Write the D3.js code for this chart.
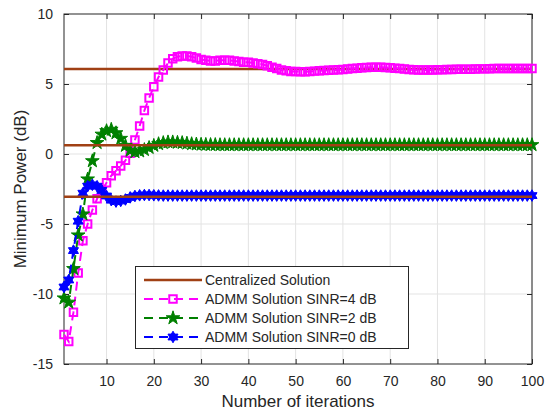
<!doctype html>
<html>
<head>
<meta charset="utf-8">
<script src="https://cdnjs.cloudflare.com/ajax/libs/d3/7.8.5/d3.min.js"></script>
<style>
body { margin: 0; background: #fff; }
text { font-family: "Liberation Sans", Arial, sans-serif; fill: #262626; }
.grid line { stroke: #e3e3e3; stroke-width: 1px; }
.axis path, .axis line { stroke: #262626; }
</style>
</head>
<body>
<svg id="chart" width="545" height="410"></svg>
<script>
// iteration index 1..100
var iterations = d3.range(1, 101);

// centralized optimum for SINR = 4, 2, 0 dB
var centralized = [6.07, 0.62, -3.05];

var sinr4 = [
  -12.9, -13.4, -11.3, -8.5, -6.2, -5.0, -4.0, -3.2, -2.6, -2.05,
  -1.55, -1.2, -0.85, -0.45, 0.05, 1.0, 2.0, 3.1, 4.0, 4.8,
  5.5, 6.0, 6.5, 6.8, 6.95, 7.0, 7.0, 6.95, 6.85, 6.75,
  6.7, 6.65, 6.65, 6.7, 6.7, 6.7, 6.65, 6.6, 6.55, 6.55,
  6.5, 6.45, 6.4, 6.3, 6.2, 6.1, 6.0, 5.95, 5.9, 5.9,
  5.88, 5.88, 5.9, 5.92, 5.94, 5.96, 5.98, 6.0, 6.02, 6.04,
  6.07, 6.1, 6.13, 6.16, 6.18, 6.2, 6.2, 6.2, 6.18, 6.16,
  6.13, 6.1, 6.07, 6.04, 6.02, 6.0, 6.0, 6.0, 6.0, 6.01,
  6.02, 6.03, 6.04, 6.05, 6.05, 6.05, 6.06, 6.07, 6.08, 6.08,
  6.09, 6.1, 6.1, 6.1, 6.1, 6.1, 6.1, 6.1, 6.1, 6.1
];

var sinr2 = [
  -10.3, -10.6, -8.2, -5.8, -4.3, -1.8, -0.5, 0.8, 1.4, 1.65,
  1.75, 1.5, 1.1, 0.6, 0.25, 0.15, 0.2, 0.3, 0.45, 0.6,
  0.72, 0.8, 0.85, 0.85, 0.82, 0.8, 0.76, 0.72, 0.7, 0.68,
  0.67, 0.66, 0.66, 0.65, 0.65, 0.65, 0.65, 0.65, 0.65, 0.65,
  0.65, 0.65, 0.65, 0.65, 0.65, 0.65, 0.65, 0.65, 0.65, 0.65,
  0.65, 0.65, 0.65, 0.65, 0.65, 0.65, 0.65, 0.65, 0.65, 0.65,
  0.65, 0.65, 0.65, 0.65, 0.65, 0.65, 0.65, 0.65, 0.65, 0.65,
  0.65, 0.65, 0.65, 0.65, 0.65, 0.65, 0.65, 0.65, 0.65, 0.65,
  0.65, 0.65, 0.65, 0.65, 0.65, 0.65, 0.65, 0.65, 0.65, 0.65,
  0.65, 0.65, 0.65, 0.65, 0.65, 0.65, 0.65, 0.65, 0.65, 0.65
];

var sinr0 = [
  -9.5, -9.0, -6.9, -4.8, -2.8, -2.3, -2.2, -2.3, -2.6, -3.0,
  -3.3, -3.4, -3.35, -3.25, -3.1, -3.0, -2.95, -2.93, -2.93, -2.95,
  -2.96, -2.97, -2.97, -2.97, -2.97, -2.97, -2.97, -2.97, -2.97, -2.97,
  -2.97, -2.97, -2.97, -2.97, -2.97, -2.97, -2.97, -2.97, -2.97, -2.97,
  -2.97, -2.97, -2.97, -2.97, -2.97, -2.97, -2.97, -2.97, -2.97, -2.97,
  -2.97, -2.97, -2.97, -2.97, -2.97, -2.97, -2.97, -2.97, -2.97, -2.97,
  -2.97, -2.97, -2.97, -2.97, -2.97, -2.97, -2.97, -2.97, -2.97, -2.97,
  -2.97, -2.97, -2.97, -2.97, -2.97, -2.97, -2.97, -2.97, -2.97, -2.97,
  -2.97, -2.97, -2.97, -2.97, -2.97, -2.97, -2.97, -2.97, -2.97, -2.97,
  -2.97, -2.97, -2.97, -2.97, -2.97, -2.97, -2.97, -2.97, -2.97, -2.97
];

var xTicks = [10, 20, 30, 40, 50, 60, 70, 80, 90, 100];
var yTicks = [-15, -10, -5, 0, 5, 10];
var legendLabels = ["Centralized Solution", "ADMM Solution SINR=4 dB",
                    "ADMM Solution SINR=2 dB", "ADMM Solution SINR=0 dB"];

var brown = "#a04014";
var magenta = "#ff00ff";
var green = "#008000";
var blue = "#0000ff";

var svg = d3.select("#chart");
var pLeft = 64, pRight = 532, pTop = 14, pBottom = 364;

var x = d3.scaleLinear().domain([1, 100]).range([pLeft, pRight]);
var y = d3.scaleLinear().domain([-15, 10]).range([pBottom, pTop]);

// hexagram marker, size = outer radius
var hexagram = {
  draw: function (ctx, r) {
    var ri = r / Math.sqrt(3);
    for (var k = 0; k < 12; k++) {
      var a = -Math.PI / 2 + k * Math.PI / 6;
      var rr = k % 2 ? ri : r;
      if (k === 0) ctx.moveTo(rr * Math.cos(a), rr * Math.sin(a));
      else ctx.lineTo(rr * Math.cos(a), rr * Math.sin(a));
    }
    ctx.closePath();
  }
};

// grid
var grid = svg.append("g").attr("class", "grid");
grid.selectAll("line.v").data(xTicks).enter().append("line")
  .attr("class", "v")
  .attr("x1", d => x(d)).attr("x2", d => x(d))
  .attr("y1", pTop).attr("y2", pBottom);
grid.selectAll("line.h").data(yTicks.slice(1, -1)).enter().append("line")
  .attr("class", "h")
  .attr("x1", pLeft).attr("x2", pRight)
  .attr("y1", d => y(d)).attr("y2", d => y(d));

// axes
var fmt = d => String(d);
svg.append("g").attr("class", "axis")
  .attr("transform", "translate(0," + pBottom + ")")
  .call(d3.axisBottom(x).tickValues(xTicks).tickFormat(fmt).tickSizeInner(-5).tickSizeOuter(0).tickPadding(12))
  .call(g => g.selectAll("text").style("font-size", "14px").attr("fill", "#262626"));
svg.append("g").attr("class", "axis")
  .attr("transform", "translate(0," + pTop + ")")
  .call(d3.axisTop(x).tickValues(xTicks).tickSizeInner(-5).tickSizeOuter(0).tickFormat(""));
svg.append("g").attr("class", "axis")
  .attr("transform", "translate(" + pLeft + ",0)")
  .call(d3.axisLeft(y).tickValues(yTicks).tickFormat(fmt).tickSizeInner(-5).tickSizeOuter(0).tickPadding(11))
  .call(g => g.selectAll("text").style("font-size", "14px").attr("fill", "#262626"));
svg.append("g").attr("class", "axis")
  .attr("transform", "translate(" + pRight + ",0)")
  .call(d3.axisRight(y).tickValues(yTicks).tickSizeInner(-5).tickSizeOuter(0).tickFormat(""));
svg.selectAll(".axis .domain").remove();
svg.append("rect")
  .attr("x", pLeft).attr("y", pTop)
  .attr("width", pRight - pLeft).attr("height", pBottom - pTop)
  .attr("fill", "none").attr("stroke", "#262626").attr("stroke-width", 1);

// axis titles
svg.append("text")
  .attr("x", (pLeft + pRight) / 2).attr("y", 407)
  .attr("text-anchor", "middle").style("font-size", "17px")
  .text("Number of iterations");
svg.append("text")
  .attr("transform", "translate(26," + (pTop + pBottom) / 2 + ") rotate(-90)")
  .attr("text-anchor", "middle").style("font-size", "17px")
  .text("Minimum Power (dB)");

function centralLine(v) {
  svg.append("line")
    .attr("x1", x(1)).attr("x2", x(100))
    .attr("y1", y(v)).attr("y2", y(v))
    .attr("stroke", brown).attr("stroke-width", 2.5);
}

var line = d3.line().x((d, i) => x(iterations[i])).y(d => y(d));

function admm(values, color, marker) {
  var g = svg.append("g");
  g.append("path").datum(values)
    .attr("d", line)
    .attr("fill", "none").attr("stroke", color)
    .attr("stroke-width", 2).attr("stroke-dasharray", "9,6");
  var pts = g.selectAll("path.m").data(values).enter().append("path")
    .attr("class", "m")
    .attr("transform", (d, i) => "translate(" + x(iterations[i]) + "," + y(d) + ")");
  marker(pts, color);
}

function squareMarker(sel, color) {
  sel.attr("d", d3.symbol().type(d3.symbolSquare).size(56)())
    .attr("fill", "none").attr("stroke", color).attr("stroke-width", 2);
}
function starMarker(sel, color) {
  sel.attr("d", d3.symbol().type(d3.symbolStar).size(58)())
    .attr("fill", color).attr("stroke", color).attr("stroke-width", 1);
}
function hexMarker(sel, color) {
  sel.attr("d", d3.symbol().type(hexagram).size(5.8)())
    .attr("fill", color).attr("stroke", color).attr("stroke-width", 1);
}

centralLine(centralized[0]);
admm(sinr4, magenta, squareMarker);
admm(sinr2, green, starMarker);
admm(sinr0, blue, hexMarker);
centralLine(centralized[1]);
centralLine(centralized[2]);

// legend
var lg = svg.append("g");
lg.append("rect")
  .attr("x", 135.5).attr("y", 266.5).attr("width", 273).attr("height", 82)
  .attr("fill", "#fff").attr("stroke", "#262626").attr("stroke-width", 1);
var rows = [
  {color: brown, dash: null, marker: null},
  {color: magenta, dash: "9,6", marker: squareMarker},
  {color: green, dash: "9,6", marker: starMarker},
  {color: blue, dash: "9,6", marker: hexMarker}
];
rows.forEach(function (r, i) {
  var yy = 280 + i * 19;
  lg.append("line")
    .attr("x1", 144).attr("x2", 202).attr("y1", yy).attr("y2", yy)
    .attr("stroke", r.color).attr("stroke-width", r.dash ? 2 : 2.5)
    .attr("stroke-dasharray", r.dash);
  if (r.marker) {
    r.marker(lg.append("path").attr("transform", "translate(173," + yy + ")"), r.color);
  }
  lg.append("text")
    .attr("x", 205).attr("y", yy).attr("dy", "0.35em")
    .style("font-size", "14px")
    .text(legendLabels[i]);
});
</script>
</body>
</html>
